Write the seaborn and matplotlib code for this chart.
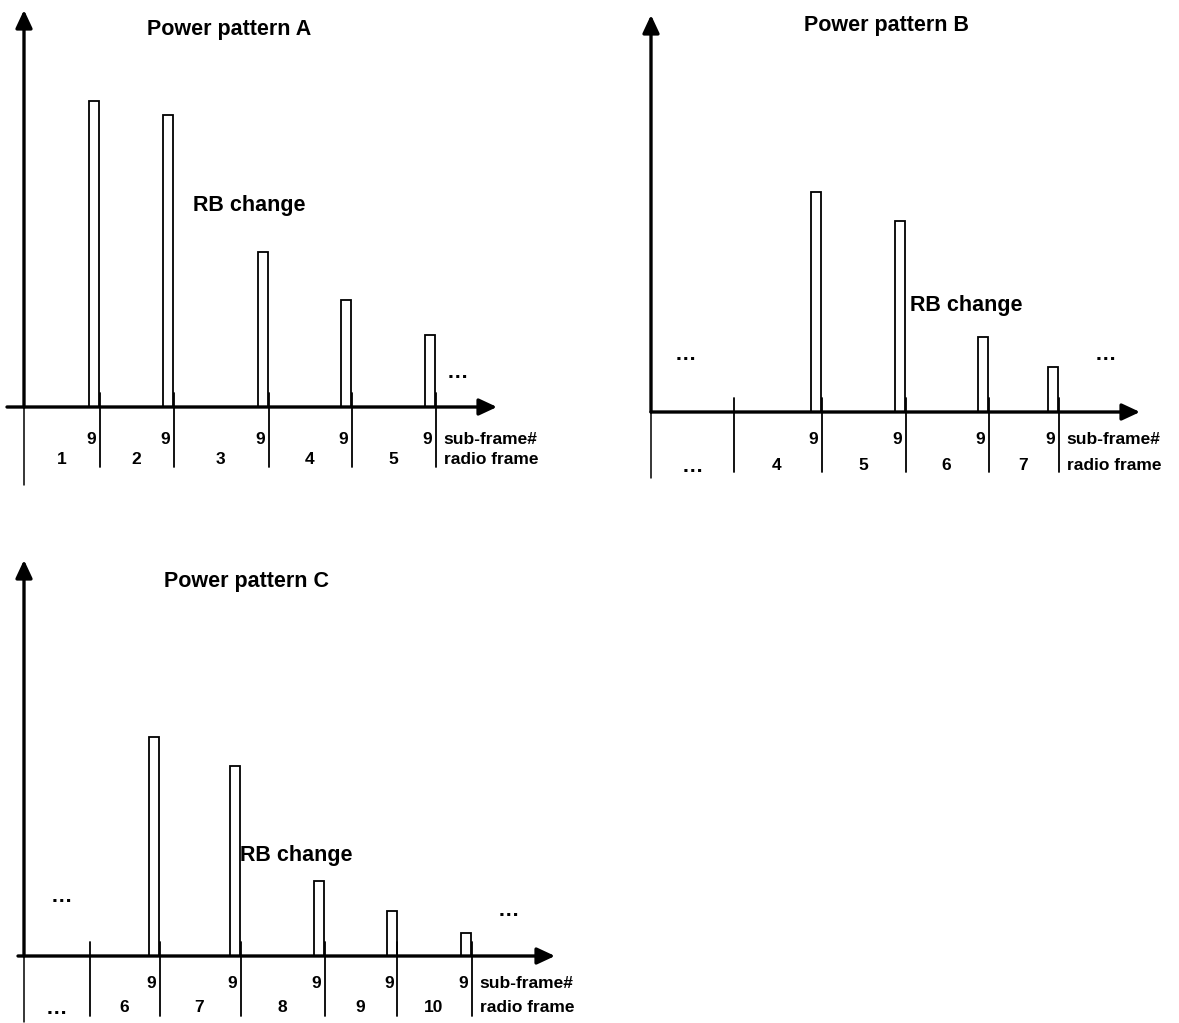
import matplotlib
matplotlib.use("Agg")
import matplotlib.pyplot as plt
import seaborn as sns
import pandas as pd
import numpy as np

# ---------------- data ----------------
# frame boundaries (time units); bars sit at the end of sub-frame 9 of each frame
bounds_A = [0, 7.5, 14.9, 24.4, 32.7, 41.1]
frames_A = ["1", "2", "3", "4", "5"]
power_A = [30.6, 29.2, 15.5, 10.7, 7.2]

bounds_B = [0, 8.2, 17.0, 25.4, 33.7, 40.7]
frames_B = ["\u2026", "4", "5", "6", "7"]
power_B = [22.0, 19.1, 7.5, 4.5]

bounds_C = [0, 6.5, 13.5, 21.6, 30.0, 37.3, 44.7]
frames_C = ["\u2026", "6", "7", "8", "9", "10"]
power_C = [21.9, 19.0, 7.5, 4.5, 2.3]

titles = ["Power pattern A", "Power pattern B", "Power pattern C"]
subframe_label = "9"

sns.set_theme(style="white")
plt.rcParams["font.family"] = ["Liberation Sans", "DejaVu Sans"]
plt.rcParams["font.weight"] = "bold"
plt.rcParams["text.color"] = "black"

W, H = 1179, 1023
fig = plt.figure(figsize=(W / 100, H / 100), dpi=100)
fig.patch.set_facecolor("white")

SCALE = 10.0  # px per unit
BAR_W = 1.0


def make_ax(origin, region):
    ox, oy = origin
    x0, x1, y0, y1 = region
    ax = fig.add_axes([x0 / W, 1 - y1 / H, (x1 - x0) / W, (y1 - y0) / H])
    return ax, ((x0 - ox) / SCALE, (x1 - ox) / SCALE), ((oy - y1) / SCALE, (oy - y0) / SCALE)


panels = [
    dict(bounds=bounds_A, frames=frames_A, power=power_A, title=titles[0],
         origin=(24, 407), region=(0, 600, 0, 520),
         xstart=-1.7, xtip=47.3, ytop=39.7, ybot=-7.8,
         title_xy=(20.5, 37.8), rb_xy=(16.9, 20.1),
         dots=[(43.3, 3.4)], lab_y=-3.3, frame_y=-5.3),
    dict(bounds=bounds_B, frames=frames_B, power=power_B, title=titles[1],
         origin=(651, 412), region=(600, 1179, 0, 520),
         xstart=0.0, xtip=48.9, ytop=39.7, ybot=-6.6,
         title_xy=(23.5, 38.7), rb_xy=(25.9, 10.6),
         dots=[(3.4, 5.7), (45.4, 5.7)], lab_y=-2.8, frame_y=-5.4),
    dict(bounds=bounds_C, frames=frames_C, power=power_C, title=titles[2],
         origin=(24, 956), region=(0, 600, 540, 1023),
         xstart=-0.6, xtip=53.1, ytop=39.6, ybot=-6.6,
         title_xy=(22.2, 37.4), rb_xy=(21.6, 10.1),
         dots=[(3.7, 6.0), (48.4, 4.6)], lab_y=-2.8, frame_y=-5.2),
]

FS_T = 15.5
FS_L = 12.5
FS_D = 15.5

AR = "-|>,head_length=0.9,head_width=0.42"

for p in panels:
    ax, xl, yl = make_ax(p["origin"], p["region"])
    bounds = p["bounds"]
    n_bars = len(p["power"])
    bar_ends = bounds[-n_bars:]
    centers = [e - BAR_W / 2 for e in bar_ends]
    df = pd.DataFrame({"t": centers, "power": p["power"]})
    min_gap = np.min(np.diff(sorted(centers)))
    sns.barplot(data=df, x="t", y="power", native_scale=True, errorbar=None,
                width=BAR_W / min_gap, color="white", edgecolor="black",
                linewidth=1.3, saturation=1, ax=ax, zorder=3)
    ax.set_xlim(*xl)
    ax.set_ylim(*yl)
    ax.axis("off")

    # axes with arrows
    ax.annotate("", xy=(p["xtip"], 0), xytext=(p["xstart"], 0),
                arrowprops=dict(arrowstyle=AR, lw=2.4, color="black",
                                shrinkA=0, shrinkB=0),
                annotation_clip=False, zorder=4)
    ax.annotate("", xy=(0, p["ytop"]), xytext=(0, 0),
                arrowprops=dict(arrowstyle=AR, lw=2.4, color="black",
                                shrinkA=0, shrinkB=0),
                annotation_clip=False, zorder=4)
    ax.plot([0, 0], [0, p["ybot"]], color="black", lw=1.1, clip_on=False)

    # frame dividers
    for b in bounds[1:]:
        ax.plot([b + 0.05, b + 0.05], [1.4, -6.0], color="black", lw=1.3,
                clip_on=False, zorder=5)

    # sub-frame 9 labels
    for e in bar_ends:
        ax.text(e - 0.3, p["lab_y"], subframe_label, ha="right", va="center",
                fontsize=FS_L, fontweight="bold", color="black")

    # radio frame labels
    for i, lab in enumerate(p["frames"]):
        mid = (bounds[i] + bounds[i + 1]) / 2
        fs = FS_D if lab == "\u2026" else FS_L
        ax.text(mid, p["frame_y"], lab, ha="center", va="center",
                fontsize=fs, fontweight="bold", color="black")

    ax.text(bar_ends[-1] + 0.8, p["lab_y"], "sub-frame#", ha="left", va="center",
            fontsize=FS_L, fontweight="bold", color="black")
    ax.text(bar_ends[-1] + 0.9, p["frame_y"], "radio frame", ha="left", va="center",
            fontsize=FS_L, fontweight="bold", color="black")

    ax.text(*p["title_xy"], p["title"], ha="center", va="center",
            fontsize=FS_T, fontweight="bold", color="black")
    ax.text(*p["rb_xy"], "RB change", ha="left", va="center",
            fontsize=FS_T, fontweight="bold", color="black")
    for dx, dy in p["dots"]:
        ax.text(dx, dy, "\u2026", ha="center", va="center",
                fontsize=FS_D, fontweight="bold", color="black")

fig.savefig("out.png", dpi=100, facecolor="white")
